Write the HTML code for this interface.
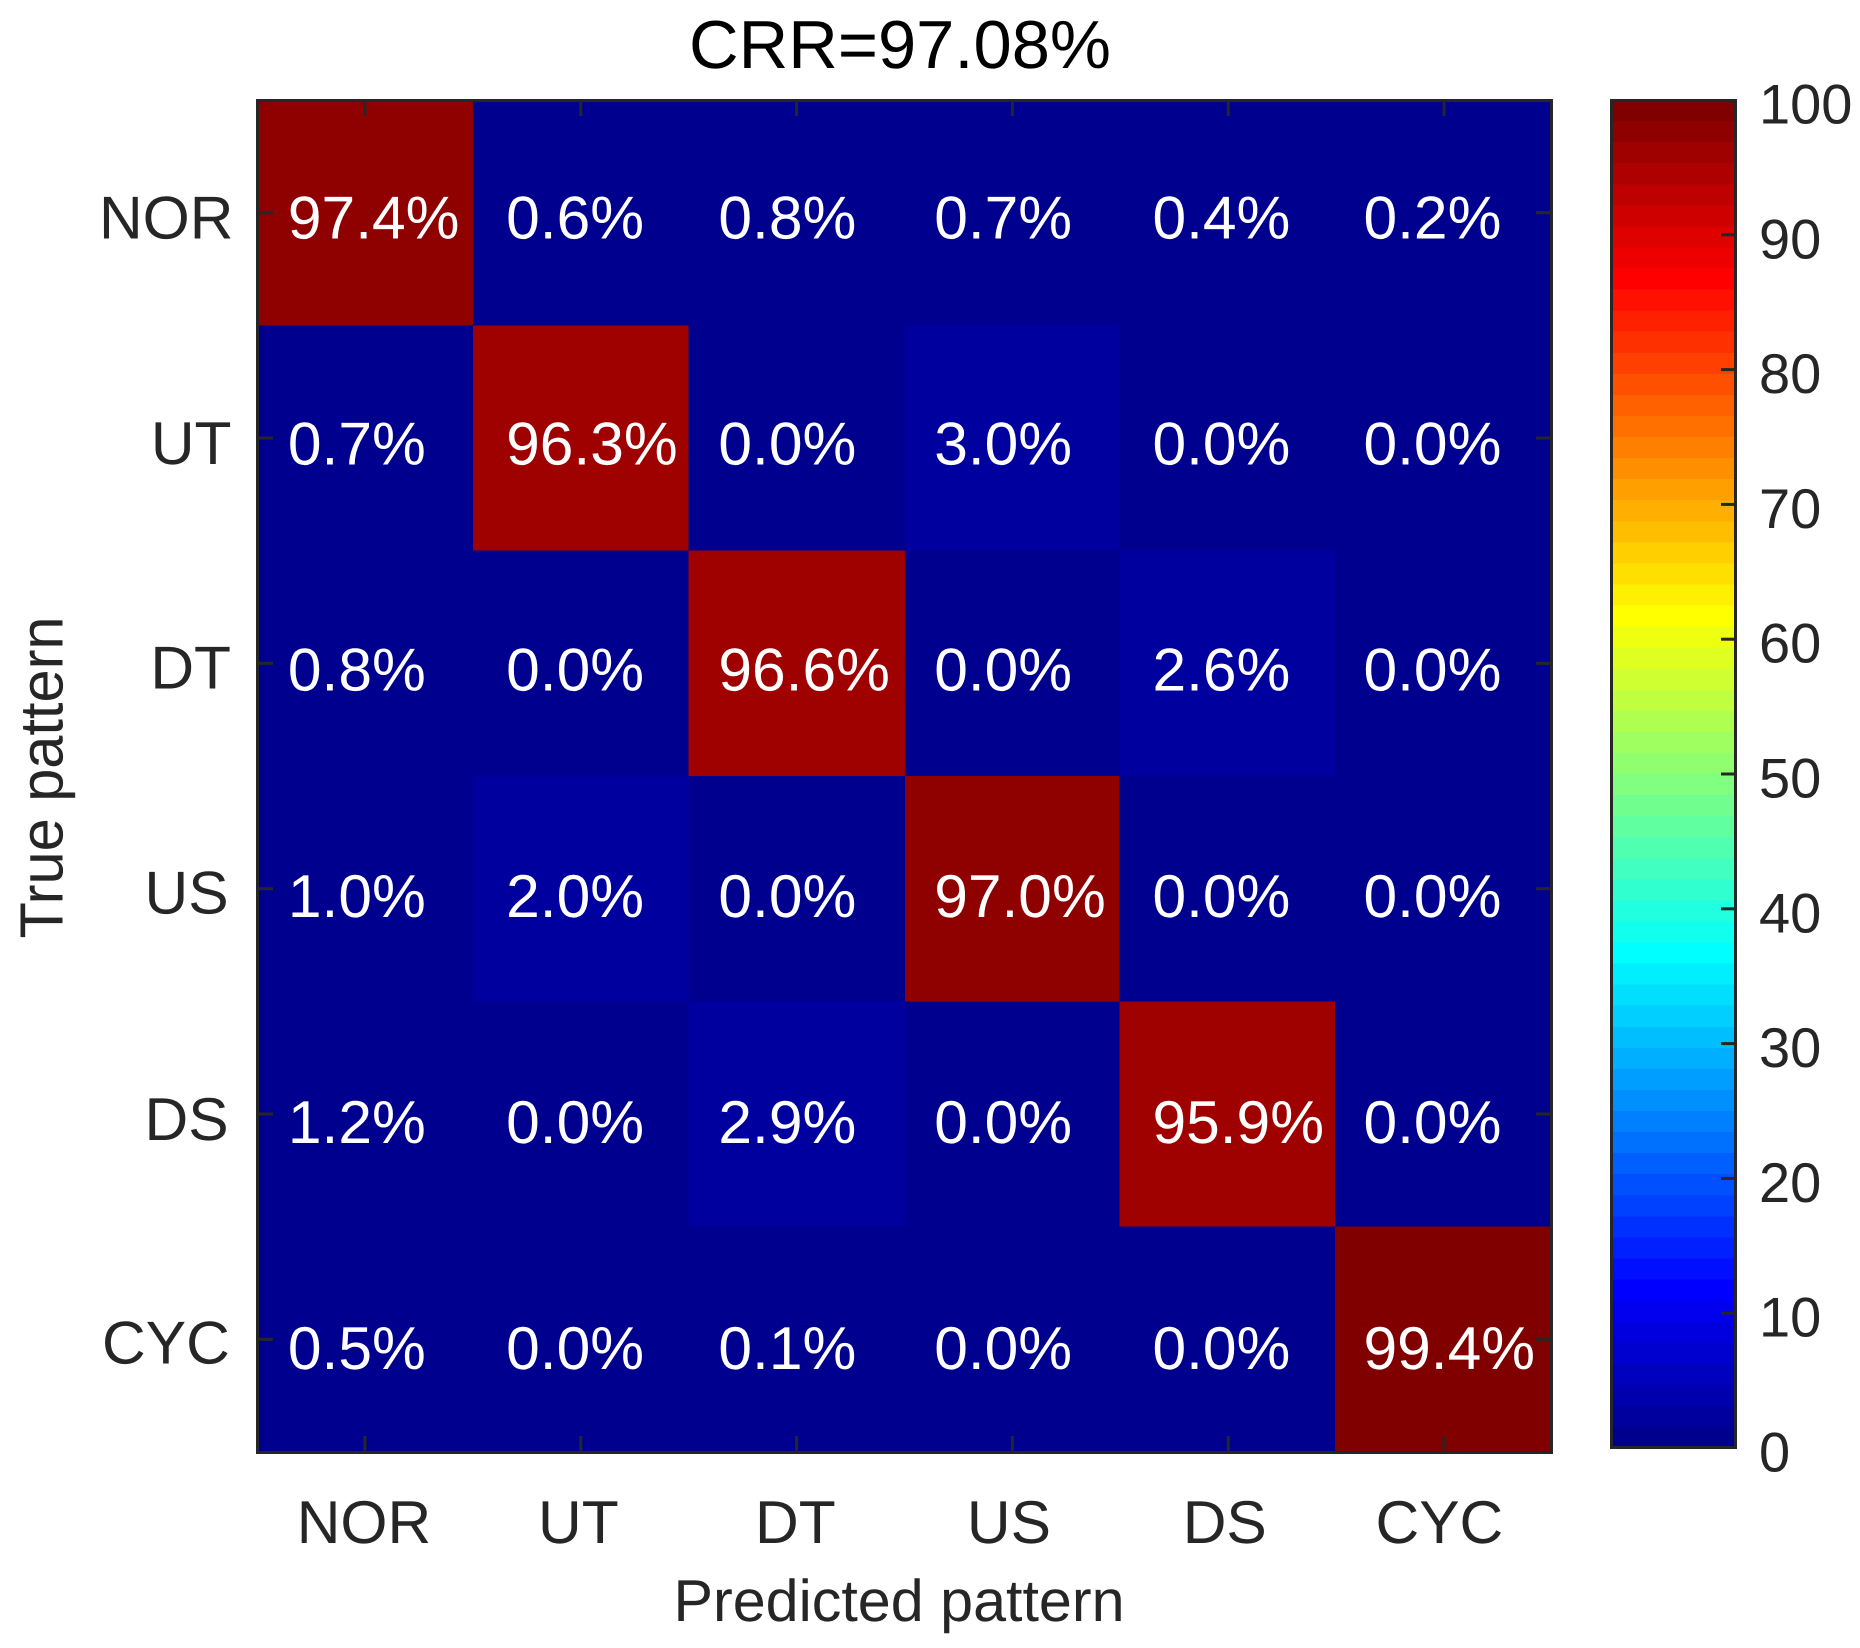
<!DOCTYPE html>
<html lang="en">
<head>
<meta charset="utf-8">
<title>Confusion matrix CRR=97.08%</title>
<style>
  html, body { margin: 0; padding: 0; background: #fff; }
  svg { display: block; }
  text { font-family: "Liberation Sans", Arial, sans-serif; fill: #262626; text-rendering: geometricPrecision; }
</style>
</head>
<body>
<svg id="chart" xmlns="http://www.w3.org/2000/svg" width="1860" height="1648" viewBox="0 0 1860 1648">
  <rect x="0" y="0" width="1860" height="1648" fill="#ffffff"/>
  <g id="cells" shape-rendering="crispEdges"></g>
  <g id="cell-labels"></g>
  <rect x="257.5" y="100.5" width="1294" height="1352" fill="none" stroke="#262626" stroke-width="3"/>
  <g id="main-ticks" stroke="#262626" stroke-width="3"></g>
  <g id="x-labels"></g>
  <g id="y-labels"></g>
  <text x="900" y="68" text-anchor="middle" font-size="68" textLength="422" lengthAdjust="spacingAndGlyphs" style="fill:#000">CRR=97.08%</text>
  <text x="899" y="1621" text-anchor="middle" font-size="59" textLength="451" lengthAdjust="spacingAndGlyphs">Predicted pattern</text>
  <text transform="translate(62.5 777.5) rotate(-90)" text-anchor="middle" font-size="61" textLength="322" lengthAdjust="spacingAndGlyphs">True pattern</text>
  <g id="colorbar-bands" shape-rendering="crispEdges"></g>
  <rect x="1611.5" y="100.5" width="124" height="1347" fill="none" stroke="#262626" stroke-width="3"/>
  <g id="colorbar-ticks" stroke="#262626" stroke-width="3"></g>
  <g id="colorbar-labels"></g>
</svg>
<script>
const categories = ["NOR", "UT", "DT", "US", "DS", "CYC"];
const rowNOR = [97.4, 0.6, 0.8, 0.7, 0.4, 0.2];
const rowUT = [0.7, 96.3, 0.0, 3.0, 0.0, 0.0];
const rowDT = [0.8, 0.0, 96.6, 0.0, 2.6, 0.0];
const rowUS = [1.0, 2.0, 0.0, 97.0, 0.0, 0.0];
const rowDS = [1.2, 0.0, 2.9, 0.0, 95.9, 0.0];
const rowCYC = [0.5, 0.0, 0.1, 0.0, 0.0, 99.4];
const matrixRows = [rowNOR, rowUT, rowDT, rowUS, rowDS, rowCYC];
const colorbarTicks = [0, 10, 20, 30, 40, 50, 60, 70, 80, 90, 100];

const SVG_NS = "http://www.w3.org/2000/svg";
const plot = { left: 257, right: 1552, top: 100, bottom: 1452 };
const bar = { left: 1611, right: 1736, top: 100, bottom: 1448 };
const colorLevels = 64;
const colorMax = 100;

/* Small per-category text nudges that mimic the hinted text placement of the source figure. */
const cellLabelNudgeX = [0, 2.4, -1.2, -1.2, 1.2, -3.6];
const xLabelNudgeX = [-1, -2.4, -1.2, -3.5, -3.5, -4.7];
const yLabelNudgeX = [2.4, 0.5, 0, -2.4, -2.4, -1.2];
const yLabelNudgeY = [0, 0, -1, -1, 0, -2];
const columnEdgeNudge = [0, 0, 0, 0.5, -1, -1, 0];

function xEdge(i) { return plot.left + (plot.right - plot.left) * i / categories.length; }
function yEdge(i) { return plot.top + (plot.bottom - plot.top) * i / categories.length; }
function xCenter(i) { return xEdge(i + 0.5); }
function yCenter(i) { return yEdge(i + 0.5); }
function cellEdge(i) { return xEdge(i) + columnEdgeNudge[i]; }
function barY(v) { return bar.bottom - (bar.bottom - bar.top) * v / colorMax; }

function jetChannel(t) { return Math.max(0, Math.min(1, 1.5 - Math.abs(4 * t - 1))); }
function jetColor(level) {
  const t = (level + 1) / colorLevels;
  const r = jetChannel(t - 0.5);
  const g = jetChannel(t - 0.25);
  const b = jetChannel(t);
  return "rgb(" + Math.round(r * 255) + "," + Math.round(g * 255) + "," + Math.round(b * 255) + ")";
}
function levelOf(v) { return Math.min(colorLevels - 1, Math.floor(v / colorMax * colorLevels)); }

function make(tag, parentId, attrs) {
  const el = document.createElementNS(SVG_NS, tag);
  for (const k in attrs) el.setAttribute(k, attrs[k]);
  document.getElementById(parentId).appendChild(el);
  return el;
}

matrixRows.forEach(function (row, r) {
  row.forEach(function (value, c) {
    const cell = make("rect", "cells", {
      x: cellEdge(c), y: yEdge(r),
      width: cellEdge(c + 1) - cellEdge(c), height: yEdge(r + 1) - yEdge(r),
      fill: jetColor(levelOf(value))
    });
    
    

    const label = make("text", "cell-labels", {
      x: xCenter(c) - 77 + cellLabelNudgeX[c], y: yCenter(r) + 26 + r * 0.7,
      "font-size": 60.5,
      style: "fill:#fff"
    });
    label.textContent = value.toFixed(1) + "%";
    
    
  });
});

categories.forEach(function (name, i) {
  const slug = name.toLowerCase();
  const tickLen = 16;
  [[xCenter(i), plot.bottom, xCenter(i), plot.bottom - tickLen],
   [xCenter(i), plot.top, xCenter(i), plot.top + tickLen]].forEach(function (p, k) {
    const t = make("line", "main-ticks", { x1: p[0], y1: p[1], x2: p[2], y2: p[3] });
    
    
  });
  [[plot.left, yCenter(i), plot.left + tickLen, yCenter(i)],
   [plot.right, yCenter(i), plot.right - tickLen, yCenter(i)]].forEach(function (p, k) {
    const t = make("line", "main-ticks", { x1: p[0], y1: p[1], x2: p[2], y2: p[3] });
    
    
  });

  const xl = make("text", "x-labels", { x: xCenter(i) + xLabelNudgeX[i], y: 1543, "text-anchor": "middle", "font-size": 60.5 });
  xl.textContent = name;
  
  

  const yl = make("text", "y-labels", { x: 231 + yLabelNudgeX[i], y: yCenter(i) + 26 + yLabelNudgeY[i], "text-anchor": "end", "font-size": 60.5 });
  yl.textContent = name;
  
  
});

for (let level = 0; level < colorLevels; level++) {
  const low = barY(level / colorLevels * colorMax);
  const high = barY((level + 1) / colorLevels * colorMax);
  const band = make("rect", "colorbar-bands", {
    x: bar.left, y: high, width: bar.right - bar.left, height: low - high,
    fill: jetColor(level)
  });
  
  
}

colorbarTicks.forEach(function (v) {
  if (v > 0 && v < colorMax) {
    const t = make("line", "colorbar-ticks", { x1: bar.right, y1: barY(v), x2: bar.right - 15, y2: barY(v) });
    
    
  }
  const l = make("text", "colorbar-labels", { x: 1759, y: barY(v) + 23.5, "font-size": 56 });
  l.textContent = String(v);
  
  
});
</script>
</body>
</html>
